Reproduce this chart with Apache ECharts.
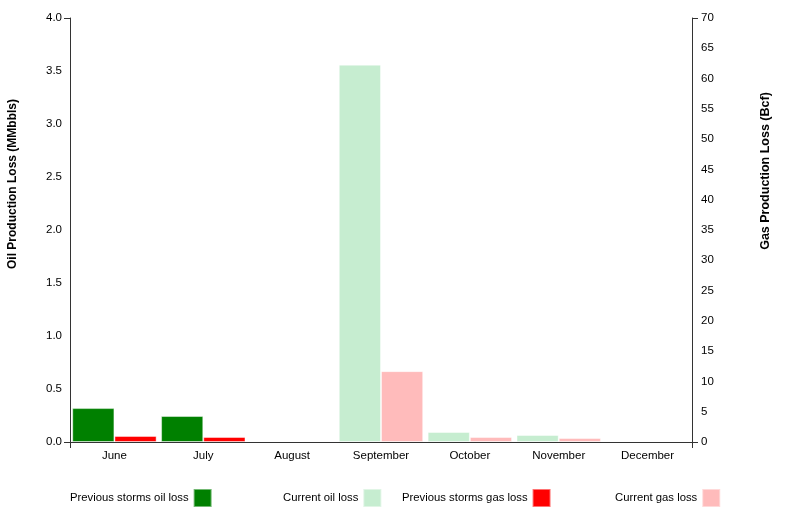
<!DOCTYPE html>
<html>
<head>
<meta charset="utf-8">
<script src="https://cdn.jsdelivr.net/npm/echarts@6/dist/echarts.min.js"></script>
<style>
  html, body { margin: 0; padding: 0; background: #fff; }
  #main { width: 786px; height: 517px; }
</style>
</head>
<body>
<div id="main"></div>
<script>
// 月份
var months = ['June', 'July', 'August', 'September', 'October', 'November', 'December'];

// 石油损失 (MMbbls)
var prevOilLoss = [0.32, 0.245, null, null, null, null, null];
var curOilLoss = [null, null, null, 3.56, 0.094, 0.066, null];

// 天然气损失 (Bcf)
var prevGasLoss = [1.0, 0.83, null, null, null, null, null];
var curGasLoss = [null, null, null, 11.7, 0.83, 0.66, null];

var FONT = '"Liberation Sans", Arial, sans-serif';
var AXIS_COLOR = '#333';

var myChart = echarts.init(document.getElementById('main'));

function legendAt(name, left) {
  return {
    data: [name],
    left: left,
    top: 488,
    padding: 0,
    align: 'right',
    itemWidth: 18,
    itemHeight: 18,
    itemGap: 0,
    icon: 'rect',
    selectedMode: false,
    textStyle: { color: '#000', fontSize: 11.3, fontFamily: FONT }
  };
}

var option = {
  animation: false,
  textStyle: { fontFamily: FONT },
  grid: { left: 70, right: 94, top: 18, bottom: 75 },
  legend: [
    legendAt('Previous storms oil loss', 70),
    legendAt('Current oil loss', 283),
    legendAt('Previous storms gas loss', 402),
    legendAt('Current gas loss', 615)
  ],
  graphic: [
    {
      type: 'text', x: 13, y: 184, rotation: Math.PI / 2,
      style: {
        text: 'Oil Production Loss (MMbbls)', align: 'center', verticalAlign: 'middle',
        font: 'bold 12px ' + FONT, fill: '#000'
      }
    },
    {
      type: 'text', x: 766, y: 171, rotation: Math.PI / 2,
      style: {
        text: 'Gas Production Loss (Bcf)', align: 'center', verticalAlign: 'middle',
        font: 'bold 12.5px ' + FONT, fill: '#000'
      }
    }
  ],
  xAxis: {
    type: 'category',
    data: months,
    axisLine: { lineStyle: { color: AXIS_COLOR, width: 1 } },
    axisTick: {
      show: true, length: 6,
      interval: function (i) { return i === 0; },
      lineStyle: { color: AXIS_COLOR }
    },
    axisLabel: { interval: 0, margin: 8, color: '#000', fontSize: 11.5, fontFamily: FONT }
  },
  yAxis: [
    {
      type: 'value', min: 0, max: 4, interval: 0.5, position: 'left',
      splitLine: { show: false },
      axisLine: { show: true, lineStyle: { color: AXIS_COLOR } },
      axisTick: { show: true, length: 6, customValues: [0, 4], lineStyle: { color: AXIS_COLOR } },
      axisLabel: {
        margin: 8, color: '#000', fontSize: 11.5, fontFamily: FONT,
        formatter: function (v) { return v.toFixed(1); }
      }
    },
    {
      type: 'value', min: 0, max: 70, interval: 5, position: 'right',
      splitLine: { show: false },
      axisLine: { show: true, lineStyle: { color: AXIS_COLOR } },
      axisTick: { show: true, length: 6, customValues: [0, 70], lineStyle: { color: AXIS_COLOR } },
      axisLabel: { margin: 9, color: '#000', fontSize: 11.5, fontFamily: FONT }
    }
  ],
  series: [
    {
      name: 'Previous storms oil loss', type: 'bar', stack: 'oil', yAxisIndex: 0,
      barGap: '0%', barCategoryGap: '5%',
      itemStyle: { color: '#008000', borderColor: 'rgba(255,255,255,0.45)', borderWidth: 1 },
      data: prevOilLoss
    },
    {
      name: 'Current oil loss', type: 'bar', stack: 'oil', yAxisIndex: 0,
      itemStyle: { color: '#c6edd0', borderColor: 'rgba(255,255,255,0.45)', borderWidth: 1 },
      data: curOilLoss
    },
    {
      name: 'Previous storms gas loss', type: 'bar', stack: 'gas', yAxisIndex: 1,
      barGap: '0%', barCategoryGap: '5%',
      itemStyle: { color: '#ff0000', borderColor: 'rgba(255,255,255,0.45)', borderWidth: 1 },
      data: prevGasLoss
    },
    {
      name: 'Current gas loss', type: 'bar', stack: 'gas', yAxisIndex: 1,
      itemStyle: { color: '#ffbbbb', borderColor: 'rgba(255,255,255,0.45)', borderWidth: 1 },
      data: curGasLoss
    }
  ]
};

myChart.setOption(option);
</script>
</body>
</html>
